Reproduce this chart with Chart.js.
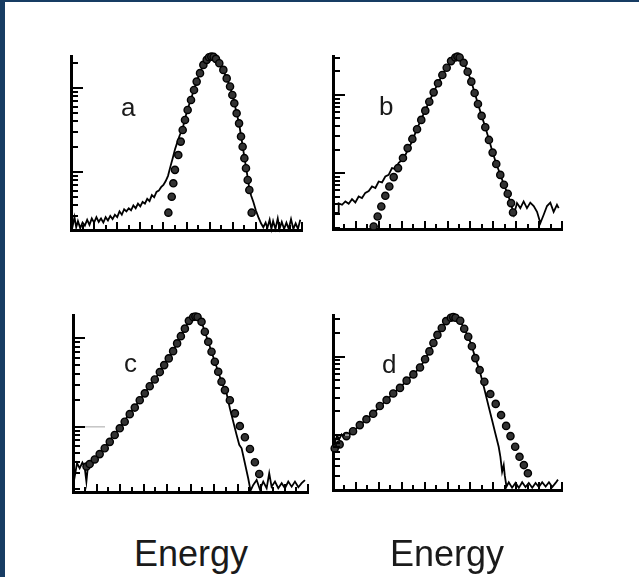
<!DOCTYPE html>
<html>
<head>
<meta charset="utf-8">
<script src="https://cdn.jsdelivr.net/npm/chart.js@4.4.1/dist/chart.umd.min.js"></script>
<style>
  html, body { margin: 0; padding: 0; }
  body { width: 639px; height: 577px; position: relative; overflow: hidden; background: #fff; }
  .edge-left { position: absolute; left: 0; top: 0; width: 5px; height: 577px; background: #173c63; }
  .edge-top { position: absolute; left: 0; top: 0; width: 639px; height: 2px; background: #173c63; }
  canvas { position: absolute; }
  .tag { position: absolute; font-family: "Liberation Sans", Arial, sans-serif; font-size: 26px; line-height: 26px; color: #1a1a1a; }
  .xlabel { position: absolute; width: 200px; text-align: center; font-family: "Liberation Sans", Arial, sans-serif; font-size: 36px; line-height: 36px; color: #1a1a1a; }
</style>
</head>
<body>
<div class="edge-left"></div>
<div class="edge-top"></div>
<canvas id="panelA"></canvas>
<canvas id="panelB"></canvas>
<canvas id="panelC"></canvas>
<canvas id="panelD"></canvas>
<div class="tag" style="left:121px; top:94px;">a</div>
<div class="tag" style="left:379px; top:93px;">b</div>
<div class="tag" style="left:124px; top:350px;">c</div>
<div class="tag" style="left:382px; top:351px;">d</div>
<div class="xlabel" style="left:91px; top:536px;">Energy</div>
<div class="xlabel" style="left:347px; top:536px;">Energy</div>
<script>
// tick values (energy channels along x, log counts along y)
const energyTicks = [1, 2, 3, 4, 5, 6, 7, 8, 9, 10, 11, 12, 13, 14, 15, 16, 17, 18, 19, 20];
const countTicks = [2, 3, 4, 5, 6, 7, 8, 9, 10, 20, 30, 40, 50, 60, 70, 80, 90, 100, 200, 300];

// panel a
const aLineE = [0, 0.15, 0.3, 0.45, 0.6, 0.8, 1.0, 1.2, 1.4, 1.6, 1.8, 2.0, 2.2, 2.4, 2.6, 2.8, 3.0, 3.2, 3.4, 3.6, 3.8, 4.0, 4.2, 4.4, 4.6, 4.8, 5.0, 5.2, 5.4, 5.6, 5.8, 6.0, 6.2, 6.4, 6.6, 6.8, 7.0, 7.2, 7.4, 7.6, 7.8, 8.0, 8.2, 8.4, 8.6, 8.8, 9.0, 9.2, 9.4, 9.67, 9.87, 10.1, 10.39, 10.65, 10.88, 11.17, 11.46, 11.75, 12.0, 12.3, 12.6, 12.84, 13.19, 13.48, 13.77, 13.97, 14.14, 14.34, 14.55, 14.72, 14.86, 15.01, 15.15, 15.3, 15.44, 15.6, 15.79, 16.0, 16.22, 16.45, 16.65, 16.85, 17.0, 17.2, 17.35, 17.5, 17.7, 17.9, 18.05, 18.25, 18.45, 18.65, 18.85, 19.05, 19.25, 19.45, 19.65, 19.85];
const aLineN = [3.1, 2.3, 2.9, 2.2, 2.6, 2.15, 2.5, 2.3, 2.7, 2.35, 2.8, 2.5, 2.9, 2.55, 2.8, 2.5, 2.9, 2.65, 3.0, 2.75, 3.1, 2.9, 3.4, 3.1, 3.6, 3.4, 3.7, 3.5, 4.0, 3.7, 4.2, 3.9, 4.4, 4.2, 4.8, 4.5, 5.3, 5.0, 5.8, 6.0, 6.6, 7.0, 7.8, 9.0, 11.5, 14.5, 18.5, 22.5, 27, 33, 43, 56, 74, 96, 120, 152, 190, 220, 236, 236, 216, 195, 162, 130, 104, 84, 67, 50, 38, 27, 20.5, 15, 11.5, 8.5, 6.3, 5.2, 4.4, 3.5, 2.9, 2.45, 2.2, 2.5, 2.15, 2.7, 2.1, 2.6, 2.1, 2.8, 2.1, 2.55, 2.1, 2.5, 2.1, 2.75, 2.1, 2.45, 2.1, 2.7];
const aFitE = [8.43, 8.72, 8.86, 9.0, 9.29, 9.5, 9.67, 9.87, 10.1, 10.39, 10.65, 10.88, 11.17, 11.46, 11.75, 11.95, 12.15, 12.35, 12.55, 12.84, 13.19, 13.48, 13.77, 13.97, 14.14, 14.34, 14.55, 14.72, 14.86, 15.01, 15.15, 15.3, 15.44, 15.64];
const aFitN = [3.28, 5.08, 7.33, 10.6, 15.9, 23, 31.6, 41.6, 54.7, 72, 94.6, 119, 150, 188, 216, 232, 236, 234, 222, 197, 164, 130, 104, 82.6, 65.7, 49.9, 37.9, 26.4, 20, 14.6, 11.1, 8.03, 6.11, 3.28];

// panel b
const bLineE = [0, 0.1, 0.45, 0.5, 0.79, 1.08, 1.37, 1.66, 1.95, 2.24, 2.53, 2.82, 3.12, 3.41, 3.7, 3.99, 4.28, 4.57, 4.86, 5.15, 5.44, 5.74, 6.03, 6.32, 6.61, 6.9, 7.34, 7.71, 8.06, 8.41, 8.79, 9.17, 9.55, 9.93, 10.31, 10.6, 10.9, 11.2, 11.41, 11.76, 12.08, 12.37, 12.66, 12.98, 13.3, 13.62, 13.94, 14.26, 14.61, 14.93, 15.26, 15.55, 15.8, 16.07, 16.36, 16.65, 16.94, 17.23, 17.53, 17.82, 18.11, 18.4, 18.69, 18.98, 19.27, 19.56, 19.71];
const bLineN = [4.5, 3.1, 3.1, 4.1, 3.94, 4.35, 4.06, 4.65, 4.22, 5.03, 4.8, 5.6, 5.9, 6.75, 6.45, 7.82, 7.6, 9.06, 9.5, 11.6, 11.3, 13.6, 14.8, 17.1, 20.9, 25.3, 37, 49, 64, 83, 109, 142, 181, 224, 272, 305, 312, 295, 260, 199, 149, 107, 77, 54, 39, 27, 18.5, 13.2, 9.6, 7.1, 5.4, 4.0, 2.95, 4.14, 3.57, 4.35, 3.57, 4.2, 3.8, 3.2, 2.3, 2.94, 3.8, 4.2, 3.2, 3.94, 3.57];
const bFitE = [3.55, 3.9, 4.22, 4.57, 4.92, 5.3, 5.68, 6.11, 6.52, 6.93, 7.34, 7.71, 8.06, 8.41, 8.79, 9.17, 9.55, 9.93, 10.31, 10.68, 10.87, 11.06, 11.41, 11.76, 12.08, 12.37, 12.66, 12.98, 13.3, 13.62, 13.94, 14.26, 14.61, 14.93, 15.26, 15.55, 15.72];
const bFitN = [2.08, 2.79, 3.75, 5.13, 6.75, 8.9, 11.6, 15.6, 20.9, 27.4, 36.5, 48, 63, 82, 108, 141, 180, 223, 271, 302, 310, 302, 258, 198, 148, 106, 76.7, 54, 38.7, 26.6, 18.3, 13.1, 9.5, 7.1, 5.45, 4.14, 3.14];

// panel c
const cLineE = [0, 0.14, 0.34, 0.57, 0.8, 0.99, 1.14, 1.28, 1.56, 1.99, 2.27, 2.7, 3.13, 3.55, 3.84, 4.12, 4.4, 4.69, 4.97, 5.26, 5.68, 6.11, 6.53, 6.96, 7.39, 7.76, 8.15, 8.52, 8.86, 9.18, 9.52, 9.86, 10.23, 10.6, 10.94, 11.22, 11.51, 11.79, 12.07, 12.36, 12.64, 12.93, 13.07, 13.35, 13.64, 13.92, 14.15, 14.35, 14.63, 14.91, 15.11, 15.34, 15.63, 15.91, 16.19, 16.48, 16.7, 16.9, 17.19, 17.47, 17.76, 18.04, 18.32, 18.61, 18.89, 19.18, 19.46, 19.74];
const cLineN = [3.53, 2.72, 3.87, 3.4, 3.95, 3.53, 2.4, 3.7, 3.95, 4.41, 5.05, 5.9, 7.0, 8.45, 9.2, 10.4, 11, 14.2, 14.8, 16.8, 20, 24, 29, 34.5, 41.8, 50, 59.5, 72, 88, 106, 129, 158, 176, 176, 154, 119, 91.6, 70.6, 54.5, 42, 32.4, 26, 23.9, 16.2, 11.4, 8.15, 6.25, 5.72, 3.87, 2.62, 1.9, 2.2, 2.5, 1.95, 2.4, 2.02, 2.98, 2.1, 2.4, 2.02, 2.3, 2.02, 2.4, 2.1, 2.4, 2.07, 2.3, 2.5];
const cFitE = [1.15, 1.42, 1.85, 2.27, 2.7, 3.13, 3.55, 3.98, 4.4, 4.83, 5.26, 5.68, 6.11, 6.53, 6.96, 7.39, 7.76, 8.15, 8.52, 8.86, 9.18, 9.52, 9.86, 10.23, 10.42, 10.6, 10.94, 11.22, 11.51, 11.79, 12.07, 12.36, 12.64, 12.93, 13.35, 13.78, 14.2, 14.63, 15.06, 15.48, 15.85];
const cFitN = [3.55, 3.79, 4.27, 4.91, 5.72, 6.76, 8.09, 9.62, 11.4, 13.9, 16.5, 20, 23.9, 28.8, 34.3, 41.6, 49.9, 59.4, 71.8, 87.8, 106, 129, 158, 175, 177, 175, 154, 119, 91.6, 70.6, 54.5, 42, 32.4, 26, 20, 14.2, 10.2, 7.62, 5.62, 3.97, 2.93];

// panel d
const dLineE = [0, 0.2, 0.35, 0.55, 0.75, 0.95, 1.2, 1.45, 1.75, 2.05, 2.34, 2.92, 3.51, 4.09, 4.68, 5.26, 5.85, 6.43, 7.02, 7.6, 8.04, 8.42, 8.77, 9.12, 9.5, 9.88, 10.2, 10.5, 10.8, 11.11, 11.46, 11.81, 12.13, 12.43, 12.81, 13.16, 13.6, 13.89, 14.18, 14.47, 14.62, 14.77, 14.91, 15.0, 15.15, 15.35, 15.64, 15.94, 16.23, 16.52, 16.81, 17.1, 17.4, 17.69, 17.98, 18.27, 18.57, 18.86, 19.15, 19.44, 19.65];
const dLineN = [9.5, 8.4, 9.8, 8.9, 10.2, 9.3, 10.6, 10.2, 11.3, 12.2, 13.4, 15.9, 18.7, 23.2, 28, 34, 40, 49.5, 59.5, 73, 93, 117, 150, 190, 233, 285, 318, 330, 318, 288, 228, 180, 136, 96, 66, 42, 23, 15.6, 10.5, 7.1, 5.28, 3.4, 4.14, 3.08, 2.2, 2.5, 2.13, 2.45, 2.12, 2.5, 2.17, 2.45, 2.13, 2.45, 2.17, 2.5, 2.2, 2.5, 2.17, 2.45, 2.7];
const dFitE = [0.15, 0.58, 1.17, 1.75, 2.34, 2.92, 3.51, 4.09, 4.68, 5.26, 5.85, 6.43, 7.02, 7.6, 8.04, 8.42, 8.77, 9.12, 9.5, 9.88, 10.29, 10.5, 10.7, 11.11, 11.46, 11.81, 12.13, 12.43, 12.81, 13.22, 13.74, 14.21, 14.68, 15.12, 15.5, 15.91, 16.29, 16.67, 17.02];
const dFitN = [6.76, 7.6, 9.7, 11.2, 13.4, 15.9, 18.7, 23.5, 28, 34, 40, 49.5, 59.5, 73, 93, 117, 150, 190, 233, 285, 315, 322, 315, 288, 228, 180, 136, 96, 67.6, 48, 33.4, 25, 18, 13.1, 9.7, 7.1, 5.28, 4.14, 3.25];

// where each plot sits on the page, and its count range
const panels = [
    { id: 'panelA', left: 71, right: 302, top: 56, bottom: 230, min: 2.04, max: 240, line: [aLineE, aLineN], fit: [aFitE, aFitN], streak: 0 },
    { id: 'panelB', left: 333, right: 562, top: 56, bottom: 229, min: 1.93, max: 315, line: [bLineE, bLineN], fit: [bFitE, bFitN], streak: 0 },
    { id: 'panelC', left: 73, right: 308, top: 315, bottom: 492, min: 1.83, max: 184, line: [cLineE, cLineN], fit: [cFitE, cFitN], streak: 32 },
    { id: 'panelD', left: 333, right: 562, top: 315, bottom: 490, min: 1.99, max: 341, line: [dLineE, dLineN], fit: [dFitE, dFitN], streak: 16 }
];

const PAD = 14;

function toPoints(xs, ys) {
    return xs.map((x, i) => ({ x: x, y: ys[i] }));
}

// tick marks point into the plot, like the original drawing
const inwardTicks = {
    id: 'inwardTicks',
    afterDatasetsDraw(chart, args, opts) {
        const { ctx, chartArea } = chart;
        const xs = chart.scales.x;
        const ys = chart.scales.y;
        ctx.save();
        ctx.lineCap = 'butt';

        if (opts.streak) {
            const py = ys.getPixelForValue(10);
            ctx.strokeStyle = 'rgba(190,190,190,0.9)';
            ctx.lineWidth = 1.5;
            ctx.beginPath();
            ctx.moveTo(chartArea.left, py);
            ctx.lineTo(chartArea.left + opts.streak, py);
            ctx.stroke();
        }

        ctx.strokeStyle = '#000';
        ctx.lineWidth = 2;
        ctx.beginPath();
        energyTicks.forEach(v => {
            const px = Math.round(xs.getPixelForValue(v));
            const len = v % 2 === 0 ? 8 : 5;
            ctx.moveTo(px, chartArea.bottom);
            ctx.lineTo(px, chartArea.bottom - len);
        });
        countTicks.forEach(v => {
            if (v < ys.min || v > ys.max) return;
            const py = Math.round(ys.getPixelForValue(v));
            const major = Math.abs(Math.log10(v) % 1) < 1e-9;
            const len = major ? 12 : 7;
            ctx.moveTo(chartArea.left, py);
            ctx.lineTo(chartArea.left + len, py);
        });
        ctx.stroke();
        ctx.restore();
    }
};

function drawPanel(p) {
    const canvas = document.getElementById(p.id);
    if (!canvas) {
        console.error('canvas not found', p.id);
        return;
    }
    const w = (p.right - p.left) + PAD * 2;
    const h = (p.bottom - p.top) + PAD * 2;
    canvas.width = w;
    canvas.height = h;
    canvas.style.width = w + 'px';
    canvas.style.height = h + 'px';
    canvas.style.left = (p.left - PAD) + 'px';
    canvas.style.top = (p.top - PAD) + 'px';

    new Chart(canvas.getContext('2d'), {
        type: 'scatter',
        data: {
            datasets: [
                {
                    data: toPoints(p.fit[0], p.fit[1]),
                    showLine: false,
                    pointRadius: 3.6,
                    pointBackgroundColor: '#333',
                    pointBorderColor: '#000',
                    pointBorderWidth: 1.4,
                    clip: 6
                },
                {
                    data: toPoints(p.line[0], p.line[1]),
                    showLine: true,
                    borderColor: '#000',
                    borderWidth: 1.8,
                    pointRadius: 0,
                    tension: 0,
                    clip: 4
                }
            ]
        },
        options: {
            responsive: false,
            animation: false,
            events: [],
            devicePixelRatio: 1,
            layout: { padding: PAD },
            plugins: {
                legend: { display: false },
                tooltip: { enabled: false },
                inwardTicks: { streak: p.streak }
            },
            scales: {
                x: {
                    type: 'linear',
                    min: 0,
                    max: 20,
                    ticks: { display: false },
                    grid: { display: false, drawTicks: false },
                    border: { display: true, width: 3, color: '#000' }
                },
                y: {
                    type: 'logarithmic',
                    min: p.min,
                    max: p.max,
                    ticks: { display: false },
                    grid: { display: false, drawTicks: false },
                    border: { display: true, width: 3, color: '#000' }
                }
            }
        },
        plugins: [inwardTicks]
    });
}

panels.forEach(drawPanel);
</script>
</body>
</html>
